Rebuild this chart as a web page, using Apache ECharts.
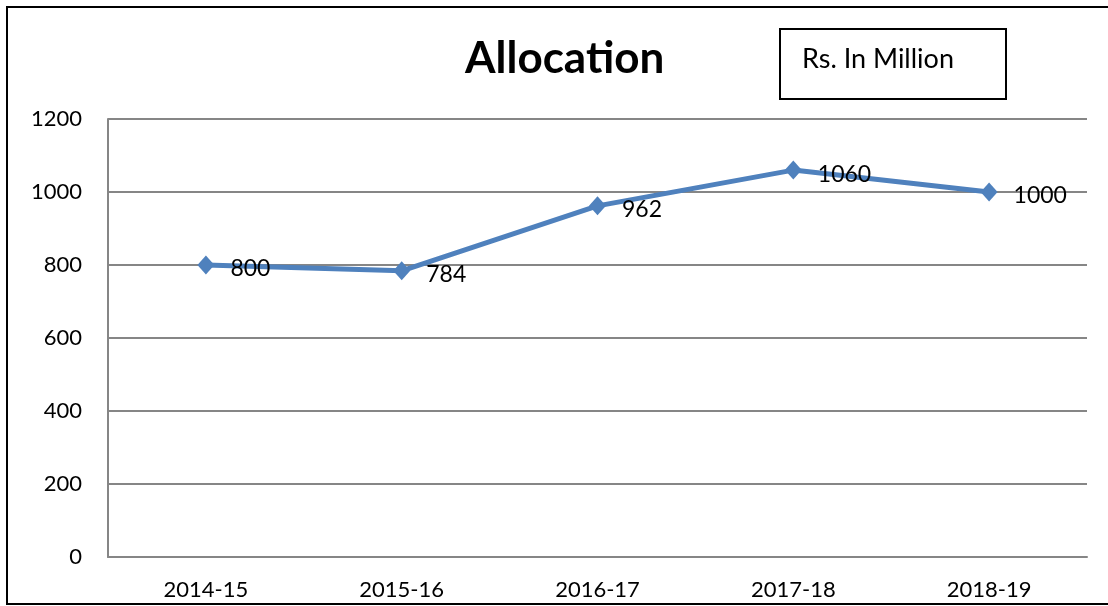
<!DOCTYPE html>
<html>
<head>
<meta charset="utf-8">
<script src="https://cdn.jsdelivr.net/npm/echarts@6/dist/echarts.min.js"></script>
<style>
  html, body { margin: 0; padding: 0; background: #fff; }
  #chart { width: 1108px; height: 606px; }
</style>
</head>
<body>
<div id="chart"></div>
<script>
// values
const years = ['2014-15', '2015-16', '2016-17', '2017-18', '2018-19']
const allocation = [800, 784, 962, 1060, 1000]
const yTicks = [0, 200, 400, 600, 800, 1000, 1200]

const font = 'Lato, "Open Sans", sans-serif'
const chart = echarts.init(document.getElementById('chart'))

chart.setOption({
  animation: false,
  backgroundColor: '#fff',
  title: {
    text: 'Allocation',
    left: 460,
    top: 32,
    textStyle: {
      fontFamily: font,
      fontWeight: 'bold',
      fontSize: 44,
      color: '#000',
    },
  },
  grid: {
    left: 108,
    right: 21,
    top: 119,
    bottom: 49,
  },
  xAxis: {
    type: 'category',
    data: years,
    boundaryGap: true,
    axisTick: { show: false },
    axisLine: { lineStyle: { color: '#868686', width: 2 } },
    axisLabel: {
      margin: 22,
      fontFamily: font,
      fontSize: 22,
      color: '#000',
    },
  },
  yAxis: {
    type: 'value',
    min: yTicks[0],
    max: yTicks[yTicks.length - 1],
    interval: 200,
    axisTick: { show: false },
    axisLine: { show: true, lineStyle: { color: '#868686', width: 2 } },
    axisLabel: {
      margin: 26,
      fontFamily: font,
      fontSize: 22,
      color: '#000',
      formatter: (v) => String(v),
    },
    splitLine: { lineStyle: { color: '#868686', width: 2 } },
  },
  series: [
    {
      name: 'Allocation',
      type: 'line',
      data: allocation,
      symbol: 'diamond',
      symbolSize: [17, 19],
      lineStyle: { color: '#4F81BD', width: 5 },
      itemStyle: { color: '#4F81BD' },
      label: {
        show: true,
        position: 'right',
        distance: 16,
        offset: [0, 4],
        fontFamily: font,
        fontSize: 23,
        color: '#000',
      },
    },
  ],
  graphic: [
    {
      type: 'polyline',
      shape: { points: [[1108, 7], [7, 7], [7, 604], [1108, 604]] },
      style: { stroke: '#000', lineWidth: 2, fill: null },
    },
    {
      type: 'rect',
      shape: { x: 780, y: 29, width: 226, height: 70 },
      style: { stroke: '#000', lineWidth: 2, fill: '#fff' },
    },
    {
      type: 'text',
      x: 802,
      y: 59,
      style: {
        text: 'Rs. In Million',
        fontFamily: font,
        fontSize: 27,
        fill: '#000',
        verticalAlign: 'middle',
      },
    },
  ],
})
</script>
</body>
</html>
